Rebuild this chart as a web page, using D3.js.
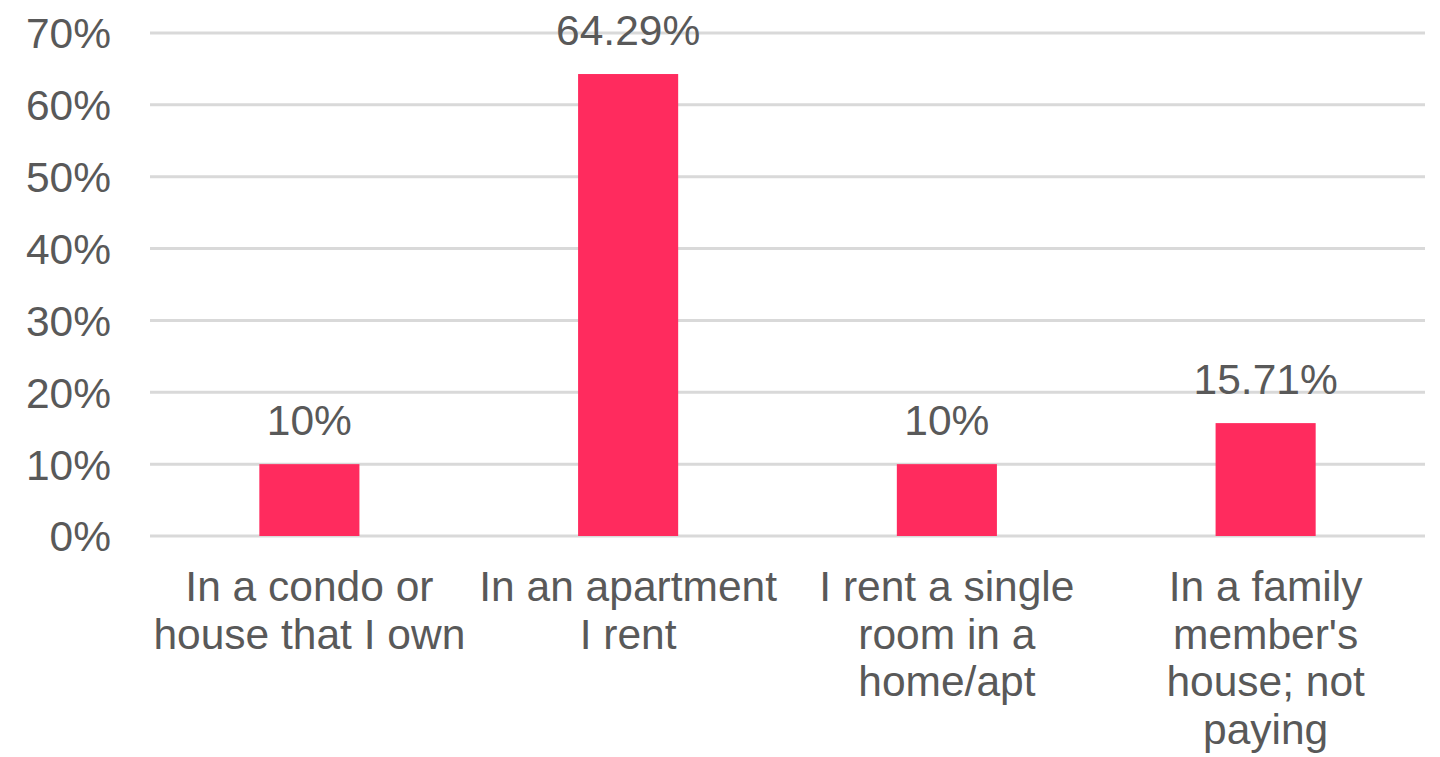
<!DOCTYPE html>
<html>
<head>
<meta charset="utf-8">
<script src="https://cdn.jsdelivr.net/npm/d3@7"></script>
<style>
  html, body { margin: 0; padding: 0; background: #fff; }
  svg { display: block; }
  text { font-family: "Liberation Sans", Arial, sans-serif; fill: #595959; }
</style>
</head>
<body>
<svg id="chart" width="1440" height="757"></svg>
<script>
// Housing situation of respondents (share of answers)
const categories = [
  "In a condo or house that I own",
  "In an apartment I rent",
  "I rent a single room in a home/apt",
  "In a family member's house; not paying"
];
const categoryLines = [
  ["In a condo or", "house that I own"],
  ["In an apartment", "I rent"],
  ["I rent a single", "room in a", "home/apt"],
  ["In a family", "member's", "house; not", "paying"]
];
const shares = [10, 64.29, 10, 15.71];
const valueLabels = ["10%", "64.29%", "10%", "15.71%"];
const yTicks = [0, 10, 20, 30, 40, 50, 60, 70];

const svg = d3.select("#chart");
const plotLeft = 150, plotRight = 1425, plotTop = 33, plotBottom = 536;
const fontSize = 42.5;

const x = d3.scaleBand().domain(categories).range([plotLeft, plotRight]).paddingInner(0.686).paddingOuter(0.343);
const y = d3.scaleLinear().domain([0, 70]).range([plotBottom, plotTop]);

// horizontal gridlines
svg.append("g")
  .selectAll("line")
  .data(yTicks)
  .join("line")
  .attr("x1", plotLeft).attr("x2", plotRight)
  .attr("y1", d => y(d)).attr("y2", d => y(d))
  .attr("stroke", "#D9D9D9")
  .attr("stroke-width", 3);

// y axis labels
const yAxis = d3.axisLeft(y).tickValues(yTicks).tickFormat(d => d + "%").tickSize(0).tickPadding(0);
const yg = svg.append("g").attr("transform", "translate(111,0)").call(yAxis);
yg.select(".domain").remove();
yg.selectAll("text")
  .style("font-family", '"Liberation Sans", Arial, sans-serif')
  .style("font-size", fontSize + "px")
  .attr("fill", "#595959")
  .attr("dy", "0.35em");

// bars
svg.append("g")
  .selectAll("rect")
  .data(shares)
  .join("rect")
  .attr("x", (d, i) => x(categories[i]))
  .attr("width", x.bandwidth())
  .attr("y", d => y(d))
  .attr("height", d => y(0) - y(d))
  .attr("fill", "#FF2B5E");

// value labels above bars
svg.append("g")
  .selectAll("text")
  .data(shares)
  .join("text")
  .attr("x", (d, i) => x(categories[i]) + x.bandwidth() / 2)
  .attr("y", d => y(d) - 29)
  .attr("text-anchor", "middle")
  .style("font-size", fontSize + "px")
  .text((d, i) => valueLabels[i]);

// category labels, wrapped onto several lines
const cat = svg.append("g")
  .selectAll("text")
  .data(categories)
  .join("text")
  .attr("text-anchor", "middle")
  .style("font-size", fontSize + "px");
cat.each(function(d, i) {
  const cx = x(d) + x.bandwidth() / 2;
  d3.select(this).selectAll("tspan")
    .data(categoryLines[i])
    .join("tspan")
    .attr("x", cx)
    .attr("y", (l, j) => 601 + j * 47.5)
    .text(l => l);
});
</script>
</body>
</html>
